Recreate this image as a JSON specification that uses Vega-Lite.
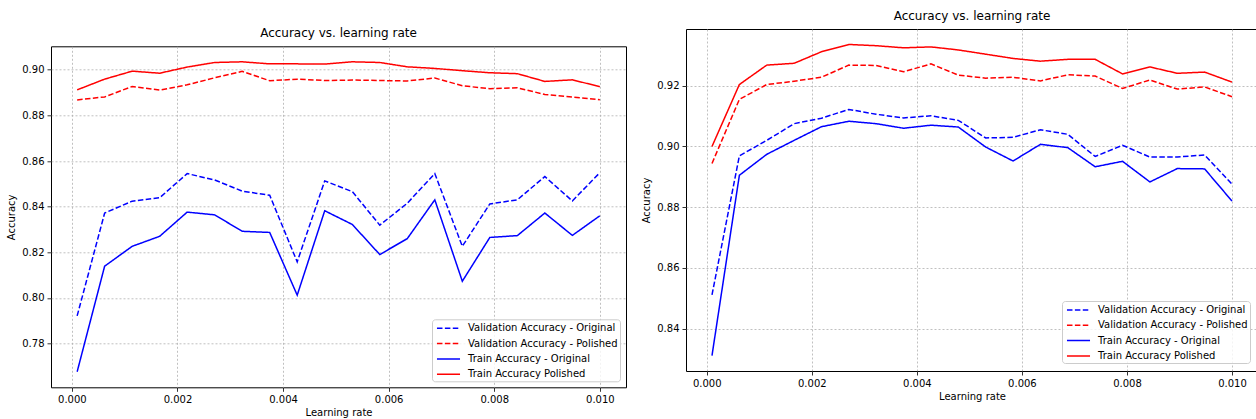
{
  "$schema": "https://vega.github.io/schema/vega-lite/v6.json",
  "background": "white",
  "padding": {"left": 6, "top": 9, "right": 0, "bottom": 0},
  "spacing": 14,
  "config": {
    "font": "DejaVu Sans",
    "view": {"stroke": "black", "strokeWidth": 1},
    "axis": {
      "labelFont": "DejaVu Sans", "labelFontSize": 10, "labelColor": "black",
      "titleFont": "DejaVu Sans", "titleFontSize": 10, "titleFontWeight": "normal", "titleColor": "black",
      "tickColor": "black", "tickSize": 4, "tickWidth": 0.8, "labelPadding": 3, "domain": false,
      "grid": true, "gridColor": "#b0b0b0", "gridDash": [2, 2], "gridWidth": 0.8
    },
    "axisX": {"titlePadding": 3},
    "axisY": {"titlePadding": 5},
    "title": {"font": "DejaVu Sans", "fontSize": 12, "fontWeight": "normal", "color": "black", "offset": 6},
    "legend": {
      "orient": "bottom-right", "offset": 6, "title": null,
      "fillColor": "rgba(255,255,255,0.8)", "strokeColor": "#cccccc", "cornerRadius": 3, "padding": 2,
      "labelFont": "DejaVu Sans", "labelFontSize": 10, "labelColor": "black", "labelOffset": 20,
      "symbolType": "M-0.67,0H3.17", "symbolSize": 144, "symbolStrokeWidth": 1.5, "rowPadding": 3.3
    }
  },
  "datasets": {
    "left": [
      {"lr": 0.0001, "Validation Accuracy - Original": 0.7921, "Validation Accuracy - Polished": 0.8868, "Train Accuracy - Original": 0.7676, "Train Accuracy Polished": 0.8912},
      {"lr": 0.000621, "Validation Accuracy - Original": 0.8372, "Validation Accuracy - Polished": 0.8881, "Train Accuracy - Original": 0.8139, "Train Accuracy Polished": 0.8959},
      {"lr": 0.001142, "Validation Accuracy - Original": 0.8424, "Validation Accuracy - Polished": 0.8927, "Train Accuracy - Original": 0.8226, "Train Accuracy Polished": 0.8994},
      {"lr": 0.001663, "Validation Accuracy - Original": 0.8439, "Validation Accuracy - Polished": 0.8911, "Train Accuracy - Original": 0.8270, "Train Accuracy Polished": 0.8985},
      {"lr": 0.002184, "Validation Accuracy - Original": 0.8545, "Validation Accuracy - Polished": 0.8934, "Train Accuracy - Original": 0.8376, "Train Accuracy Polished": 0.9012},
      {"lr": 0.002705, "Validation Accuracy - Original": 0.8517, "Validation Accuracy - Polished": 0.8965, "Train Accuracy - Original": 0.8364, "Train Accuracy Polished": 0.9032},
      {"lr": 0.003226, "Validation Accuracy - Original": 0.8468, "Validation Accuracy - Polished": 0.8993, "Train Accuracy - Original": 0.8292, "Train Accuracy Polished": 0.9035},
      {"lr": 0.003747, "Validation Accuracy - Original": 0.8450, "Validation Accuracy - Polished": 0.8952, "Train Accuracy - Original": 0.8287, "Train Accuracy Polished": 0.9026},
      {"lr": 0.004268, "Validation Accuracy - Original": 0.8158, "Validation Accuracy - Polished": 0.8959, "Train Accuracy - Original": 0.8012, "Train Accuracy Polished": 0.9026},
      {"lr": 0.004789, "Validation Accuracy - Original": 0.8513, "Validation Accuracy - Polished": 0.8953, "Train Accuracy - Original": 0.8382, "Train Accuracy Polished": 0.9025},
      {"lr": 0.005311, "Validation Accuracy - Original": 0.8466, "Validation Accuracy - Polished": 0.8955, "Train Accuracy - Original": 0.8322, "Train Accuracy Polished": 0.9035},
      {"lr": 0.005832, "Validation Accuracy - Original": 0.8319, "Validation Accuracy - Polished": 0.8953, "Train Accuracy - Original": 0.8190, "Train Accuracy Polished": 0.9032},
      {"lr": 0.006353, "Validation Accuracy - Original": 0.8415, "Validation Accuracy - Polished": 0.8951, "Train Accuracy - Original": 0.8260, "Train Accuracy Polished": 0.9013},
      {"lr": 0.006874, "Validation Accuracy - Original": 0.8545, "Validation Accuracy - Polished": 0.8964, "Train Accuracy - Original": 0.8430, "Train Accuracy Polished": 0.9006},
      {"lr": 0.007395, "Validation Accuracy - Original": 0.8226, "Validation Accuracy - Polished": 0.8930, "Train Accuracy - Original": 0.8073, "Train Accuracy Polished": 0.8996},
      {"lr": 0.007916, "Validation Accuracy - Original": 0.8412, "Validation Accuracy - Polished": 0.8917, "Train Accuracy - Original": 0.8265, "Train Accuracy Polished": 0.8987},
      {"lr": 0.008437, "Validation Accuracy - Original": 0.8430, "Validation Accuracy - Polished": 0.8921, "Train Accuracy - Original": 0.8273, "Train Accuracy Polished": 0.8983},
      {"lr": 0.008958, "Validation Accuracy - Original": 0.8532, "Validation Accuracy - Polished": 0.8892, "Train Accuracy - Original": 0.8372, "Train Accuracy Polished": 0.8949},
      {"lr": 0.009479, "Validation Accuracy - Original": 0.8425, "Validation Accuracy - Polished": 0.8881, "Train Accuracy - Original": 0.8274, "Train Accuracy Polished": 0.8956},
      {"lr": 0.01, "Validation Accuracy - Original": 0.8549, "Validation Accuracy - Polished": 0.8869, "Train Accuracy - Original": 0.8360, "Train Accuracy Polished": 0.8926}
    ],
    "right": [
      {"lr": 0.0001, "Validation Accuracy - Original": 0.8511, "Validation Accuracy - Polished": 0.8944, "Train Accuracy - Original": 0.8311, "Train Accuracy Polished": 0.9000},
      {"lr": 0.000621, "Validation Accuracy - Original": 0.8969, "Validation Accuracy - Polished": 0.9155, "Train Accuracy - Original": 0.8905, "Train Accuracy Polished": 0.9204},
      {"lr": 0.001142, "Validation Accuracy - Original": 0.9020, "Validation Accuracy - Polished": 0.9204, "Train Accuracy - Original": 0.8974, "Train Accuracy Polished": 0.9268},
      {"lr": 0.001663, "Validation Accuracy - Original": 0.9075, "Validation Accuracy - Polished": 0.9215, "Train Accuracy - Original": 0.9020, "Train Accuracy Polished": 0.9274},
      {"lr": 0.002184, "Validation Accuracy - Original": 0.9093, "Validation Accuracy - Polished": 0.9228, "Train Accuracy - Original": 0.9065, "Train Accuracy Polished": 0.9312},
      {"lr": 0.002705, "Validation Accuracy - Original": 0.9122, "Validation Accuracy - Polished": 0.9268, "Train Accuracy - Original": 0.9083, "Train Accuracy Polished": 0.9336},
      {"lr": 0.003226, "Validation Accuracy - Original": 0.9106, "Validation Accuracy - Polished": 0.9267, "Train Accuracy - Original": 0.9075, "Train Accuracy Polished": 0.9332},
      {"lr": 0.003747, "Validation Accuracy - Original": 0.9094, "Validation Accuracy - Polished": 0.9246, "Train Accuracy - Original": 0.9060, "Train Accuracy Polished": 0.9325},
      {"lr": 0.004268, "Validation Accuracy - Original": 0.9101, "Validation Accuracy - Polished": 0.9272, "Train Accuracy - Original": 0.9070, "Train Accuracy Polished": 0.9328},
      {"lr": 0.004789, "Validation Accuracy - Original": 0.9086, "Validation Accuracy - Polished": 0.9235, "Train Accuracy - Original": 0.9064, "Train Accuracy Polished": 0.9318},
      {"lr": 0.005311, "Validation Accuracy - Original": 0.9028, "Validation Accuracy - Polished": 0.9225, "Train Accuracy - Original": 0.8998, "Train Accuracy Polished": 0.9304},
      {"lr": 0.005832, "Validation Accuracy - Original": 0.9030, "Validation Accuracy - Polished": 0.9228, "Train Accuracy - Original": 0.8952, "Train Accuracy Polished": 0.9290},
      {"lr": 0.006353, "Validation Accuracy - Original": 0.9055, "Validation Accuracy - Polished": 0.9216, "Train Accuracy - Original": 0.9007, "Train Accuracy Polished": 0.9281},
      {"lr": 0.006874, "Validation Accuracy - Original": 0.9040, "Validation Accuracy - Polished": 0.9236, "Train Accuracy - Original": 0.8996, "Train Accuracy Polished": 0.9287},
      {"lr": 0.007395, "Validation Accuracy - Original": 0.8967, "Validation Accuracy - Polished": 0.9232, "Train Accuracy - Original": 0.8933, "Train Accuracy Polished": 0.9287},
      {"lr": 0.007916, "Validation Accuracy - Original": 0.9004, "Validation Accuracy - Polished": 0.9191, "Train Accuracy - Original": 0.8951, "Train Accuracy Polished": 0.9239},
      {"lr": 0.008437, "Validation Accuracy - Original": 0.8965, "Validation Accuracy - Polished": 0.9219, "Train Accuracy - Original": 0.8883, "Train Accuracy Polished": 0.9262},
      {"lr": 0.008958, "Validation Accuracy - Original": 0.8965, "Validation Accuracy - Polished": 0.9189, "Train Accuracy - Original": 0.8927, "Train Accuracy Polished": 0.9241},
      {"lr": 0.009479, "Validation Accuracy - Original": 0.8972, "Validation Accuracy - Polished": 0.9196, "Train Accuracy - Original": 0.8926, "Train Accuracy Polished": 0.9245},
      {"lr": 0.01, "Validation Accuracy - Original": 0.8876, "Validation Accuracy - Polished": 0.9164, "Train Accuracy - Original": 0.8820, "Train Accuracy Polished": 0.9212}
    ],
    "spacer": [{"t": ""}]
  },
  "hconcat": [
    {
      "spacing": -8.7,
      "resolve": {"scale": {"color": "independent", "strokeDash": "independent"}, "legend": {"color": "independent", "strokeDash": "independent"}},
      "vconcat": [
        {
          "width": 575,
          "height": 2,
          "view": {"stroke": null, "fill": "white"},
          "data": {"name": "spacer"},
          "mark": {"type": "text"},
          "encoding": {"text": {"field": "t", "type": "nominal"}}
        },
        {
          "width": 575,
          "height": 341,
          "title": {"text": "Accuracy vs. learning rate"},
          "data": {"name": "left"},
          "transform": [{"fold": ["Validation Accuracy - Original", "Validation Accuracy - Polished", "Train Accuracy - Original", "Train Accuracy Polished"], "as": ["series", "acc"]}],
          "mark": {"type": "line", "strokeWidth": 1.5},
          "encoding": {
            "x": {"field": "lr", "type": "quantitative", "scale": {"domain": [-0.000395, 0.010495], "nice": false, "zero": false},
                  "axis": {"title": "Learning rate", "values": [0, 0.002, 0.004, 0.006, 0.008, 0.01], "format": ".3f"}},
            "y": {"field": "acc", "type": "quantitative", "scale": {"domain": [0.7608, 0.9103], "nice": false, "zero": false},
                  "axis": {"title": "Accuracy", "values": [0.78, 0.8, 0.82, 0.84, 0.86, 0.88, 0.9], "format": ".2f"}},
            "color": {"field": "series", "type": "nominal",
                      "scale": {"domain": ["Validation Accuracy - Original", "Validation Accuracy - Polished", "Train Accuracy - Original", "Train Accuracy Polished"], "range": ["#0000ff", "#ff0000", "#0000ff", "#ff0000"]}},
            "strokeDash": {"field": "series", "type": "nominal",
                      "scale": {"domain": ["Validation Accuracy - Original", "Validation Accuracy - Polished", "Train Accuracy - Original", "Train Accuracy Polished"], "range": [[5.5, 2.4], [5.5, 2.4], [1, 0], [1, 0]]}}
          }
        }
      ]
    },
    {
      "width": 572,
      "height": 342,
      "title": {"text": "Accuracy vs. learning rate"},
      "data": {"name": "right"},
      "transform": [{"fold": ["Validation Accuracy - Original", "Validation Accuracy - Polished", "Train Accuracy - Original", "Train Accuracy Polished"], "as": ["series", "acc"]}],
      "mark": {"type": "line", "strokeWidth": 1.5},
      "encoding": {
        "x": {"field": "lr", "type": "quantitative", "scale": {"domain": [-0.000395, 0.010495], "nice": false, "zero": false},
              "axis": {"title": "Learning rate", "values": [0, 0.002, 0.004, 0.006, 0.008, 0.01], "format": ".3f"}},
        "y": {"field": "acc", "type": "quantitative", "scale": {"domain": [0.826, 0.9387], "nice": false, "zero": false},
              "axis": {"title": "Accuracy", "values": [0.84, 0.86, 0.88, 0.9, 0.92], "format": ".2f"}},
        "color": {"field": "series", "type": "nominal",
                  "scale": {"domain": ["Validation Accuracy - Original", "Validation Accuracy - Polished", "Train Accuracy - Original", "Train Accuracy Polished"], "range": ["#0000ff", "#ff0000", "#0000ff", "#ff0000"]},
                  "legend": {"offset": 8}},
        "strokeDash": {"field": "series", "type": "nominal",
                  "scale": {"domain": ["Validation Accuracy - Original", "Validation Accuracy - Polished", "Train Accuracy - Original", "Train Accuracy Polished"], "range": [[5.5, 2.4], [5.5, 2.4], [1, 0], [1, 0]]}}
      }
    }
  ],
  "resolve": {"scale": {"color": "independent", "strokeDash": "independent"}, "legend": {"color": "independent", "strokeDash": "independent"}}
}
